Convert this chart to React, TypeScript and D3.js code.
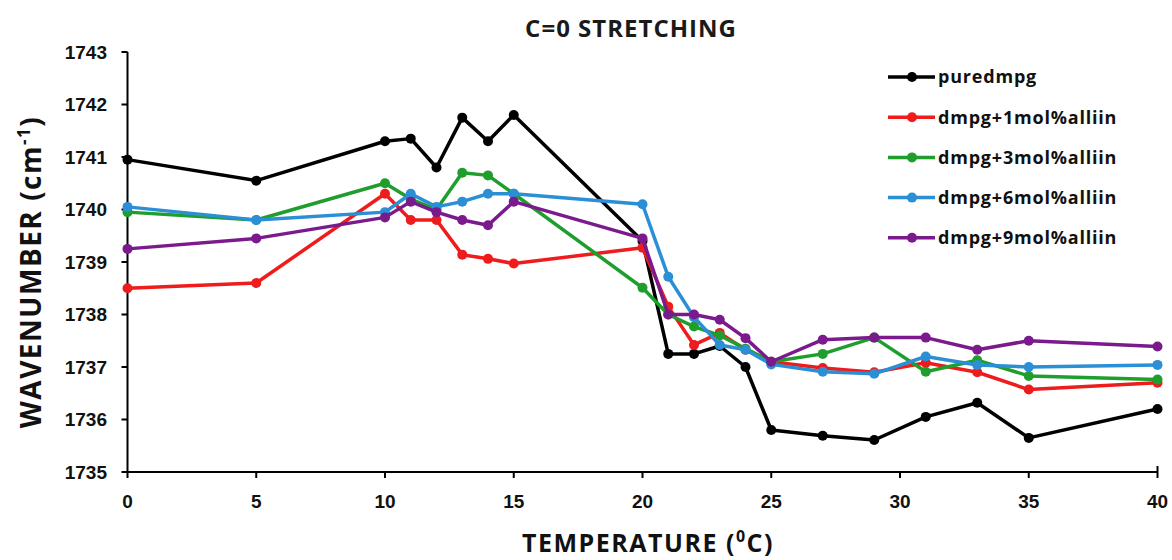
import React from "react";
import * as d3 from "d3";

const temperatures = [0, 5, 10, 11, 12, 13, 14, 15, 20, 21, 22, 23, 24, 25, 27, 29, 31, 33, 35, 40];
const pureDmpg = [1740.95, 1740.55, 1741.3, 1741.35, 1740.8, 1741.75, 1741.3, 1741.8, 1739.4, 1737.25, 1737.25, 1737.4, 1737.0, 1735.8, 1735.69, 1735.61, 1736.05, 1736.32, 1735.65, 1736.2];
const dmpg1 = [1738.5, 1738.6, 1740.3, 1739.8, 1739.8, 1739.14, 1739.06, 1738.97, 1739.27, 1738.15, 1737.42, 1737.65, 1737.33, 1737.1, 1736.98, 1736.9, 1737.08, 1736.9, 1736.57, 1736.7];
const dmpg3 = [1739.95, 1739.8, 1740.5, 1740.2, 1740.0, 1740.7, 1740.65, 1740.3, 1738.51, 1738.0, 1737.77, 1737.6, 1737.35, 1737.1, 1737.25, 1737.56, 1736.91, 1737.13, 1736.83, 1736.76];
const dmpg6 = [1740.05, 1739.8, 1739.95, 1740.3, 1740.05, 1740.15, 1740.3, 1740.3, 1740.1, 1738.72, 1737.95, 1737.42, 1737.33, 1737.05, 1736.91, 1736.87, 1737.2, 1737.04, 1737.0, 1737.04];
const dmpg9 = [1739.25, 1739.45, 1739.85, 1740.15, 1739.95, 1739.8, 1739.7, 1740.15, 1739.45, 1738.0, 1738.0, 1737.9, 1737.55, 1737.1, 1737.52, 1737.56, 1737.56, 1737.33, 1737.5, 1737.39];

const seriesNames = ["puredmpg", "dmpg+1mol%alliin", "dmpg+3mol%alliin", "dmpg+6mol%alliin", "dmpg+9mol%alliin"];
const seriesValues = [pureDmpg, dmpg1, dmpg3, dmpg6, dmpg9];
const seriesColors = ["#000000", "#ee1c1c", "#1f9e2e", "#2a8fd4", "#7a1a8c"];
const xTicks = [0, 5, 10, 15, 20, 25, 30, 35, 40];
const yTicks = [1735, 1736, 1737, 1738, 1739, 1740, 1741, 1742, 1743];

const W = 1172;
const H = 560;
const left = 127.5;
const right = 1157.5;
const top = 52;
const bottom = 472;

export default function App() {
  const x = d3.scaleLinear().domain([0, 40]).range([left, right]);
  const y = d3.scaleLinear().domain([1735, 1743]).range([bottom, top]);
  const line = d3
    .line<[number, number]>()
    .x((d) => x(d[0]))
    .y((d) => y(d[1]));

  const tickFont = "'Liberation Sans', Arial, sans-serif";
  const labelFont = "'Open Sans', 'Noto Sans', sans-serif";

  return (
    <svg
      width={W}
      height={H}
      style={{ position: "absolute", left: 0, top: 0, background: "#fff" }}
    >
      <rect x={0} y={0} width={W} height={H} fill="#fff" />
      <text x={631} y={37} textAnchor="middle" fontFamily={labelFont} fontWeight="bold" fontSize={24} letterSpacing={1} fill="#1a1a1a">
        C=0 STRETCHING
      </text>

      {/* axes */}
      <line x1={left} x2={left} y1={top} y2={bottom} stroke="#000" strokeWidth={2} />
      <line x1={left} x2={right} y1={bottom} y2={bottom} stroke="#000" strokeWidth={2} />
      <line x1={right} x2={right} y1={bottom - 6} y2={bottom} stroke="#000" strokeWidth={2} />
      {yTicks.map((t) => (
        <g key={"y" + t}>
          <line x1={left - 6} x2={left} y1={y(t)} y2={y(t)} stroke="#000" strokeWidth={2} />
          <text x={107} y={y(t)} dy="0.36em" textAnchor="end" fontFamily={tickFont} fontWeight="bold" fontSize={19} fill="#111">
            {t}
          </text>
        </g>
      ))}
      {xTicks.map((t) => (
        <g key={"x" + t}>
          <line x1={x(t)} x2={x(t)} y1={bottom} y2={bottom + 6} stroke="#000" strokeWidth={2} />
          <text x={x(t)} y={508} textAnchor="middle" fontFamily={tickFont} fontWeight="bold" fontSize={19} fill="#111">
            {t}
          </text>
        </g>
      ))}

      <text x={648} y={552} textAnchor="middle" fontFamily={labelFont} fontWeight="bold" fontSize={25} letterSpacing={1.5} fill="#111">
        TEMPERATURE (<tspan dy={-10} fontSize={16}>0</tspan>
        <tspan dy={10}>C)</tspan>
      </text>
      <text
        transform={`translate(41, ${272}) rotate(-90)`}
        textAnchor="middle"
        fontFamily={labelFont}
        fontWeight="bold"
        fontSize={28}
        letterSpacing={1.5}
        fill="#111"
      >
        WAVENUMBER (cm<tspan dy={-11} fontSize={17}>-1</tspan>
        <tspan dy={11}>)</tspan>
      </text>

      {/* series */}
      {seriesValues.map((vals, i) => {
        const pts = temperatures.map((t, j) => [t, vals[j]] as [number, number]);
        return (
          <g key={seriesNames[i]}>
            <path d={line(pts) || ""} fill="none" stroke={seriesColors[i]} strokeWidth={3.5} strokeLinejoin="round" />
            {pts.map((p, j) => (
              <circle key={j} cx={x(p[0])} cy={y(p[1])} r={5} fill={seriesColors[i]} />
            ))}
          </g>
        );
      })}

      {/* legend */}
      {seriesNames.map((n, i) => {
        const ly = 77 + i * 40.2;
        return (
          <g key={"l" + n}>
            <line x1={888} x2={935} y1={ly} y2={ly} stroke={seriesColors[i]} strokeWidth={3.5} />
            <circle cx={912} cy={ly} r={5} fill={seriesColors[i]} />
            <text x={938} y={ly} dy="0.35em" fontFamily={labelFont} fontWeight="bold" fontSize={18} letterSpacing={0.8} fill="#111">
              {n}
            </text>
          </g>
        );
      })}
    </svg>
  );
}
